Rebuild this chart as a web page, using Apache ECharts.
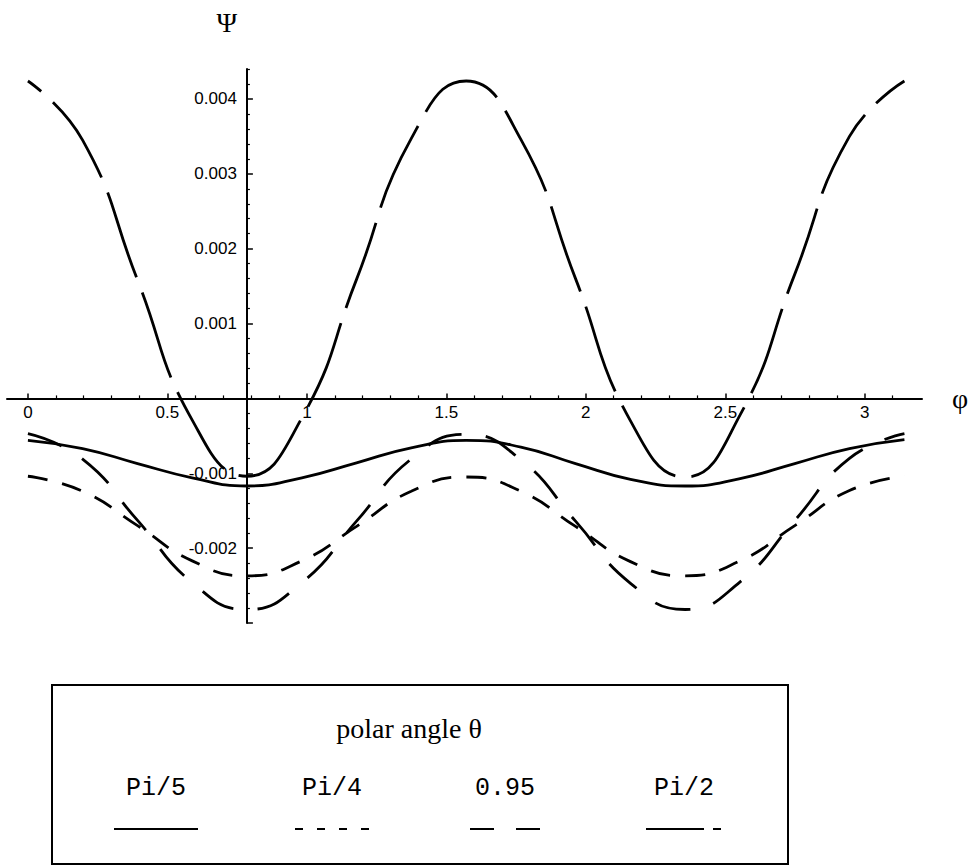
<!DOCTYPE html>
<html>
<head>
<meta charset="utf-8">
<title>Psi vs phi</title>
<script src="https://cdn.jsdelivr.net/npm/echarts@6/dist/echarts.min.js"></script>
<style>
  html, body { margin: 0; padding: 0; background: #fff; }
  #chart { width: 977px; height: 866px; }
</style>
</head>
<body>
<div id="chart"></div>
<script>
// azimuth φ at which the curves were read
const phi = [0, 0.196, 0.393, 0.589, 0.785, 0.982, 1.178, 1.374, 1.571, 1.767, 1.963, 2.160, 2.356, 2.553, 2.749, 2.945, 3.142]
// Ψ, one list per polar angle θ
const psiPi5 = [-0.00056, -0.00067, -0.00087, -0.00106, -0.00117, -0.00106, -0.00086, -0.00066, -0.00056, -0.00065, -0.00087, -0.00108, -0.00117, -0.00107, -0.00087, -0.00067, -0.00055]
const psiPi4 = [-0.00104, -0.00124, -0.00170, -0.00217, -0.00237, -0.00217, -0.00171, -0.00124, -0.00105, -0.00124, -0.00171, -0.00218, -0.00237, -0.00217, -0.00170, -0.00123, -0.00104]
const psi095 = [-0.00047, -0.00081, -0.00163, -0.00246, -0.00282, -0.00246, -0.00164, -0.00081, -0.00048, -0.00082, -0.00164, -0.00247, -0.00282, -0.00245, -0.00163, -0.00080, -0.00047]
const psiPi2 = [0.00424, 0.00345, 0.00158, -0.00029, -0.00104, -0.00026, 0.00159, 0.00347, 0.00424, 0.00346, 0.00160, -0.00030, -0.00105, -0.00022, 0.00166, 0.00350, 0.00424]

const thetaLabels = ['Pi/5', 'Pi/4', '0.95', 'Pi/2']
const legendTitle = 'polar angle θ'
const xTickLabels = [0, 0.5, 1, 1.5, 2, 2.5, 3]
const yTickLabels = [-0.002, -0.001, 0.001, 0.002, 0.003, 0.004]
const yMajorTicks = [-0.003, -0.002, -0.001, 0, 0.001, 0.002, 0.003, 0.004]

const xMin = -0.075
const xMax = 3.205
const yMin = -0.003
const yMax = 0.0044
const yAxisAt = 0.785 // the Ψ axis crosses φ here
const xAxisAt = 0     // the φ axis crosses Ψ here

// small tick marks between the labelled ones
function steps(from, to, step, skipEvery) {
  const out = []
  for (let i = 0; from + i * step <= to + 1e-12; i++) {
    if (i % skipEvery !== 0) out.push(+(from + i * step).toFixed(6))
  }
  return out
}
const xMinorTicks = steps(0, 3.1, 0.1, 5)
const yMinorTicks = steps(-0.003, 0.0044, 0.0002, 5)

const pairs = (vals) => phi.map((p, i) => [p, vals[i]])

const chart = echarts.init(document.getElementById('chart'), null, { renderer: 'svg' })

const tickFont = { fontFamily: 'Liberation Sans, Arial, sans-serif', fontSize: 17, color: '#000' }
const dashes = {
  'Pi/5': 'solid',
  'Pi/4': [20, 15],
  '0.95': [36, 24],
  'Pi/2': [90, 16],
}

const option = {
  animation: false,
  backgroundColor: '#fff',
  grid: { left: 7, right: 55, top: 69, bottom: 243, containLabel: false, outerBoundsMode: 'none' },
  xAxis: [
    {
      type: 'value',
      position: 'bottom',
      min: xMin,
      max: xMax,
      name: 'φ',
      nameLocation: 'end',
      nameGap: 30,
      nameTextStyle: { fontFamily: 'Liberation Serif, Times New Roman, serif', fontSize: 28, color: '#000' },
      axisLine: { show: true, onZero: false, lineStyle: { color: '#000', width: 2 } },
      axisTick: { show: true, inside: true, length: 5, customValues: xTickLabels, lineStyle: { color: '#000', width: 1.5 } },
      axisLabel: { ...tickFont, margin: 6, customValues: xTickLabels },
      splitLine: { show: false },
    },
    {
      type: 'value',
      position: 'bottom',
      min: xMin,
      max: xMax,
      axisLine: { show: false, onZero: false },
      axisTick: { show: true, inside: true, length: 3, customValues: xMinorTicks, lineStyle: { color: '#000', width: 1.2 } },
      axisLabel: { show: false },
      splitLine: { show: false },
    },
  ],
  yAxis: [
    {
      type: 'value',
      position: 'left',
      min: yMin,
      max: yMax,
      name: 'Ψ',
      nameLocation: 'end',
      nameGap: 33,
      nameTextStyle: { fontFamily: 'Liberation Serif, Times New Roman, serif', fontSize: 28, color: '#000', align: 'center', padding: [0, 40, 0, 0] },
      axisLine: { show: true, onZero: false, lineStyle: { color: '#000', width: 2 } },
      axisTick: { show: true, inside: true, length: 6, customValues: yMajorTicks, lineStyle: { color: '#000', width: 1.5 } },
      axisLabel: { ...tickFont, margin: 10, customValues: yTickLabels },
      splitLine: { show: false },
    },
    {
      type: 'value',
      position: 'left',
      min: yMin,
      max: yMax,
      axisLine: { show: false, onZero: false },
      axisTick: { show: true, inside: true, length: 3, customValues: yMinorTicks, lineStyle: { color: '#000', width: 1.2 } },
      axisLabel: { show: false },
      splitLine: { show: false },
    },
  ],
  series: [
    ['Pi/5', psiPi5],
    ['Pi/4', psiPi4],
    ['0.95', psi095],
    ['Pi/2', psiPi2],
  ].map(([name, vals]) => ({
    name,
    type: 'line',
    xAxisIndex: 0,
    yAxisIndex: 0,
    data: pairs(vals),
    smooth: 0.5,
    symbol: 'none',
    lineStyle: {
      color: '#000',
      width: 2.8,
      type: dashes[name],
      dashOffset: name === 'Pi/2' ? 73 : 0,
    },
  })),
}

chart.setOption(option)

// move the axes so they cross where the plot has them
// (done twice: the grid may be laid out differently before the axes move)
function placeAxes() {
  const leftPx = chart.convertToPixel({ xAxisIndex: 0 }, xMin)
  const atPx = chart.convertToPixel({ xAxisIndex: 0 }, yAxisAt)
  const bottomPx = chart.convertToPixel({ yAxisIndex: 0 }, yMin)
  const zeroPx = chart.convertToPixel({ yAxisIndex: 0 }, xAxisAt)
  chart.setOption({
    xAxis: [{ offset: zeroPx - bottomPx }, { offset: zeroPx - bottomPx }],
    yAxis: [{ offset: leftPx - atPx }, { offset: leftPx - atPx }],
  })
}
placeAxes()
placeAxes()

// legend box drawn below the plot
const colX = [156, 332, 505, 684]
const keyLines = thetaLabels.map((t, i) => {
  const c = colX[i]
  if (t === 'Pi/5') return { x1: c - 42, x2: c + 42, dash: null }
  if (t === 'Pi/4') return { x1: c - 37, x2: c + 37, dash: [8, 14] }
  if (t === '0.95') return { x1: c - 35, x2: c + 35, dash: [24, 22] }
  return { x1: c - 38, x2: c + 38, dash: [58, 9, 8, 9] }
})

const graphic = [
  {
    type: 'rect',
    shape: { x: 52, y: 685, width: 736, height: 179 },
    style: { fill: 'none', stroke: '#000', lineWidth: 2 },
  },
  {
    type: 'text',
    x: 409,
    y: 728,
    style: {
      text: legendTitle,
      fontFamily: 'Liberation Serif, Times New Roman, serif',
      fontSize: 28,
      fill: '#000',
      align: 'center',
      verticalAlign: 'middle',
    },
  },
  ...thetaLabels.map((t, i) => ({
    type: 'text',
    x: colX[i],
    y: 788,
    style: {
      text: t,
      fontFamily: 'Liberation Mono, Courier New, monospace',
      fontSize: 25,
      fill: '#000',
      align: 'center',
      verticalAlign: 'middle',
    },
  })),
  ...keyLines.map((k) => ({
    type: 'line',
    shape: { x1: k.x1, y1: 829, x2: k.x2, y2: 829 },
    style: { stroke: '#000', lineWidth: 2, lineDash: k.dash },
  })),
]

chart.setOption({ graphic })
</script>
</body>
</html>
